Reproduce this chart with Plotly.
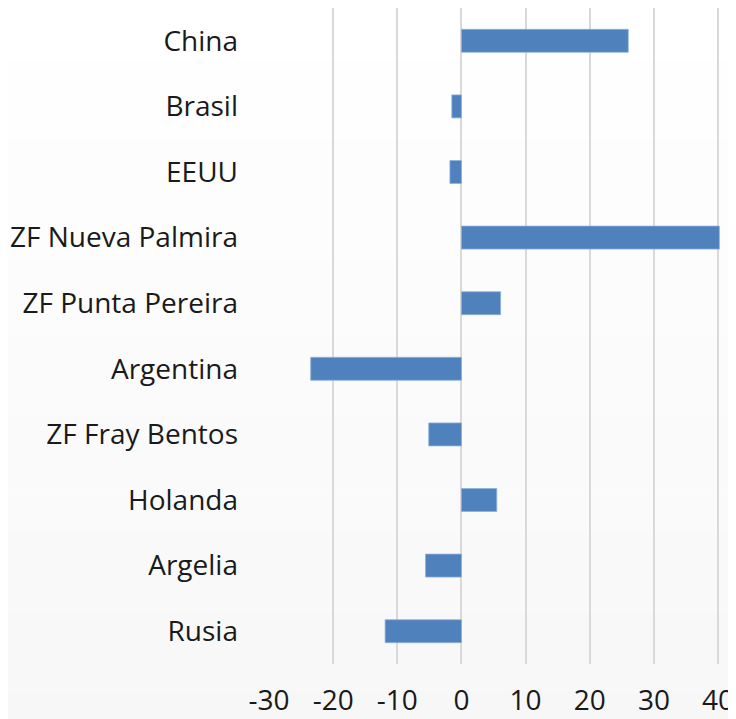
import plotly.graph_objects as go

categories = ["China", "Brasil", "EEUU", "ZF Nueva Palmira", "ZF Punta Pereira",
              "Argentina", "ZF Fray Bentos", "Holanda", "Argelia", "Rusia"]
values = [26.0, -1.5, -1.8, 40.2, 6.1, -23.5, -5.1, 5.5, -5.6, -11.9]
tick_vals = [-30, -20, -10, 0, 10, 20, 30, 40]
tick_text = ["-30", "-20", "-10", "0", "10", "20", "30", "40"]

fig = go.Figure(go.Bar(
    y=categories, x=values, orientation="h",
    marker=dict(color="#4f81bd", line=dict(color="#8eb0dc", width=0.8)),
))

shapes = []
n = 20
for i in range(n):
    g = 255 - int(8 * i / (n - 1))
    shapes.append(dict(type="rect", xref="paper", yref="paper",
                       x0=-1, x1=2, y0=-0.1 + (1 - (i + 1) / n) * 1.2,
                       y1=-0.1 + (1 - i / n) * 1.2,
                       fillcolor=f"rgb({g},{g},{g})", line=dict(width=0),
                       layer="below"))

# page body has an 8px default margin; figure sized to fill the rest
fig.update_layout(
    width=728, height=711,
    margin=dict(l=261, r=16, t=0, b=55),
    paper_bgcolor="white", plot_bgcolor="rgba(0,0,0,0)",
    bargap=0.65, showlegend=False,
    font=dict(family="Open Sans", size=28, color="#1a1a1a"),
    shapes=shapes,
    xaxis=dict(range=[-30, 40.3], tickvals=tick_vals, ticktext=tick_text,
               showgrid=True, gridcolor="#d9d9d9", gridwidth=1.5,
               zeroline=True, zerolinecolor="#d9d9d9", zerolinewidth=1.5,
               showline=False, ticks="", ticklabelstandoff=17, automargin=False,
               ticklabeloverflow="allow"),
    yaxis=dict(categoryorder="array", categoryarray=categories[::-1],
               showgrid=False, zeroline=False, showline=False, ticks="",
               ticklabelstandoff=30, automargin=False),
)

fig.write_html("out.html")
